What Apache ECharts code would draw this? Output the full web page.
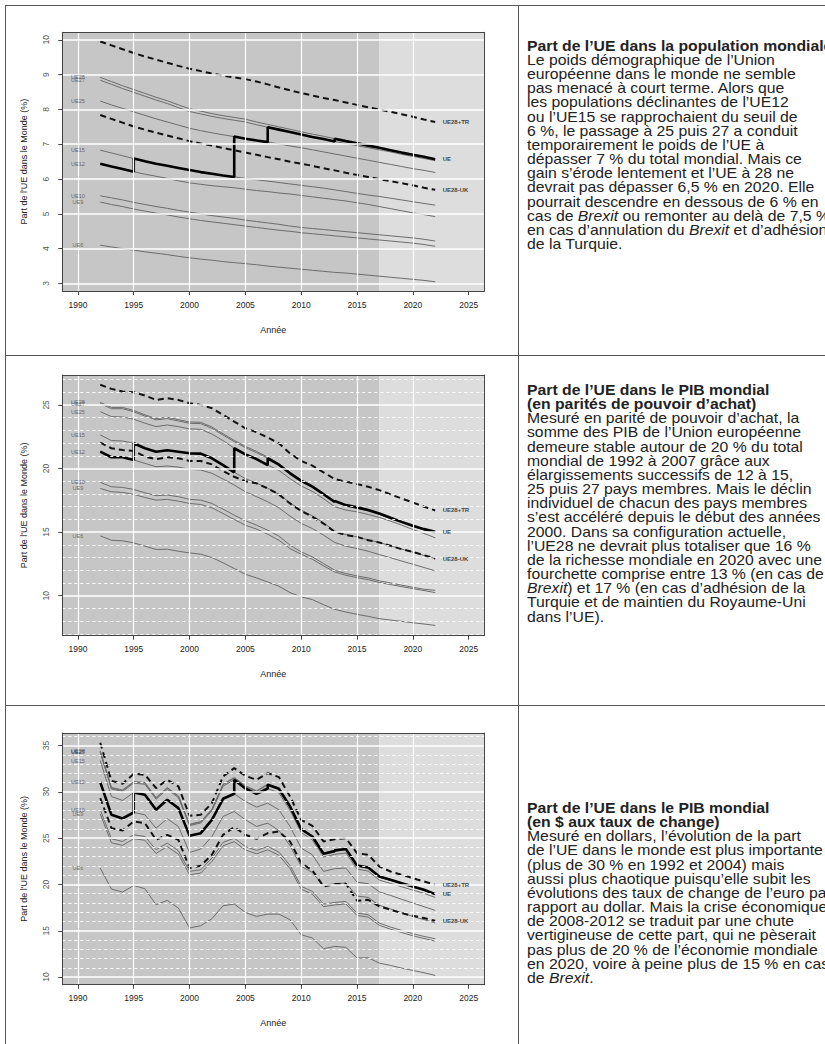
<!DOCTYPE html>
<html><head><meta charset="utf-8">
<script src="https://cdn.jsdelivr.net/npm/echarts@6/dist/echarts.min.js"></script>
<style>
html,body{margin:0;padding:0;width:825px;height:1044px;overflow:hidden;background:#fff;}
#chart{position:absolute;left:0;top:0;width:825px;height:1044px;}
.txt{position:absolute;left:527px;font-family:"Liberation Sans",Arial,sans-serif;font-size:14.2px;line-height:14.15px;color:#222;white-space:nowrap;transform:scaleX(1.11);transform-origin:0 0;}
.hl{position:absolute;left:5px;width:820px;height:1px;background:#555;}
.vl{position:absolute;top:5px;height:1039px;width:1px;background:#555;}
</style></head>
<body>
<div id="chart"></div>
<div class="hl" style="top:5px"></div>
<div class="hl" style="top:355px"></div>
<div class="hl" style="top:705px"></div>
<div class="vl" style="left:5px"></div>
<div class="vl" style="left:518px"></div>
<div class="txt" style="top:38.8px"><b>Part de l’UE dans la population mondiale</b><br>Le poids démographique de l’Union<br>européenne dans le monde ne semble<br>pas menacé à court terme. Alors que<br>les populations déclinantes de l’UE12<br>ou l’UE15 se rapprochaient du seuil de<br>6 %, le passage à 25 puis 27 a conduit<br>temporairement le poids de l’UE à<br>dépasser 7 % du total mondial. Mais ce<br>gain s’érode lentement et l’UE à 28 ne<br>devrait pas dépasser 6,5 % en 2020. Elle<br>pourrait descendre en dessous de 6 % en<br>cas de <i>Brexit</i> ou remonter au delà de 7,5 %<br>en cas d’annulation du <i>Brexit</i> et d’adhésion<br>de la Turquie.</div>
<div class="txt" style="top:383px"><b>Part de l’UE dans le PIB mondial<br>(en parités de pouvoir d’achat)</b><br>Mesuré en parité de pouvoir d’achat, la<br>somme des PIB de l’Union européenne<br>demeure stable autour de 20 % du total<br>mondial de 1992 à 2007 grâce aux<br>élargissements successifs de 12 à 15,<br>25 puis 27 pays membres. Mais le déclin<br>individuel de chacun des pays membres<br>s’est accéléré depuis le début des années<br>2000. Dans sa configuration actuelle,<br>l’UE28 ne devrait plus totaliser que 16 %<br>de la richesse mondiale en 2020 avec une<br>fourchette comprise entre 13 % (en cas de<br><i>Brexit</i>) et 17 % (en cas d’adhésion de la<br>Turquie et de maintien du Royaume-Uni<br>dans l’UE).</div>
<div class="txt" style="top:801px"><b>Part de l’UE dans le PIB mondial<br>(en $ aux taux de change)</b><br>Mesuré en dollars, l’évolution de la part<br>de l’UE dans le monde est plus importante<br>(plus de 30 % en 1992 et 2004) mais<br>aussi plus chaotique puisqu’elle subit les<br>évolutions des taux de change de l’euro par<br>rapport au dollar. Mais la crise économique<br>de 2008-2012 se traduit par une chute<br>vertigineuse de cette part, qui ne pèserait<br>pas plus de 20 % de l’économie mondiale<br>en 2020, voire à peine plus de 15 % en cas<br>de <i>Brexit</i>.</div>
<script>
const YEARS = [1992,1993,1994,1995,1996,1997,1998,1999,2000,2001,2002,2003,2004,2005,2006,2007,2008,2009,2010,2011,2012,2013,2014,2015,2016,2017,2018,2019,2020,2021,2022];
const MEMBERS = ['UE6','UE9','UE10','UE12','UE15','UE25','UE27','UE28'];
const UE_STEPS = [[1992,'UE12'],[1995,'UE15'],[2004,'UE25'],[2007,'UE27'],[2013,'UE28']];
const X_TICKS = [1990,1995,2000,2005,2010,2015,2020,2025];
const X_GRID = [1990,1995,2000,2005,2010,2015,2020];
const FORECAST_START = 2017;
const Y_AXIS_TITLE = "Part de l'UE dans le Monde (%)";
const X_AXIS_TITLE = "Année";

// Population share (%)
const POP_UE6 = [4.10,4.05,4.00,3.96,3.91,3.87,3.83,3.78,3.74,3.70,3.67,3.63,3.60,3.57,3.54,3.50,3.47,3.44,3.41,3.38,3.35,3.32,3.30,3.27,3.24,3.21,3.18,3.15,3.12,3.09,3.05];
const POP_UE9 = [5.34,5.27,5.21,5.14,5.08,5.02,4.97,4.91,4.86,4.81,4.77,4.73,4.69,4.65,4.61,4.57,4.53,4.50,4.46,4.43,4.40,4.37,4.34,4.31,4.28,4.25,4.22,4.19,4.16,4.12,4.07];
const POP_UE10 = [5.52,5.46,5.40,5.33,5.27,5.21,5.16,5.10,5.05,5.00,4.95,4.91,4.87,4.82,4.78,4.74,4.70,4.65,4.61,4.58,4.55,4.52,4.49,4.46,4.43,4.40,4.37,4.34,4.31,4.27,4.22];
const POP_UE12 = [6.44,6.36,6.29,6.21,6.14,6.08,6.02,5.95,5.89,5.85,5.81,5.78,5.75,5.71,5.67,5.64,5.60,5.57,5.53,5.49,5.45,5.41,5.37,5.32,5.27,5.21,5.15,5.09,5.03,4.98,4.92];
const POP_UE15 = [6.83,6.75,6.67,6.59,6.51,6.44,6.38,6.32,6.26,6.20,6.15,6.10,6.06,6.02,5.98,5.94,5.90,5.86,5.82,5.78,5.74,5.69,5.64,5.59,5.54,5.50,5.45,5.40,5.35,5.30,5.25];
const POP_UE25 = [8.24,8.13,8.03,7.93,7.83,7.73,7.64,7.55,7.46,7.39,7.33,7.27,7.22,7.16,7.11,7.06,7.01,6.95,6.90,6.84,6.78,6.72,6.66,6.60,6.54,6.48,6.42,6.36,6.30,6.25,6.19];
const POP_UE27 = [8.84,8.72,8.60,8.49,8.38,8.27,8.17,8.05,7.94,7.87,7.80,7.74,7.69,7.64,7.56,7.49,7.42,7.35,7.28,7.21,7.15,7.08,7.02,6.96,6.90,6.84,6.78,6.71,6.65,6.59,6.53];
const POP_UE28 = [8.92,8.80,8.68,8.57,8.46,8.35,8.25,8.13,8.02,7.95,7.88,7.82,7.77,7.72,7.64,7.57,7.50,7.43,7.36,7.29,7.23,7.16,7.09,7.03,6.96,6.90,6.83,6.76,6.70,6.64,6.57];
const POP_UE28TR = [9.95,9.84,9.73,9.62,9.52,9.43,9.34,9.25,9.17,9.10,9.03,8.97,8.92,8.87,8.80,8.72,8.63,8.55,8.47,8.40,8.33,8.27,8.20,8.13,8.06,8.00,7.93,7.86,7.79,7.71,7.64];
const POP_UE28UK = [7.84,7.73,7.62,7.51,7.42,7.33,7.25,7.17,7.09,7.02,6.96,6.89,6.83,6.76,6.70,6.63,6.57,6.50,6.44,6.38,6.31,6.25,6.18,6.12,6.06,6.00,5.94,5.88,5.82,5.75,5.69];
const POP_Y_TICKS = [3,4,5,6,7,8,9,10];
const POP_Y_MINOR = [];

// GDP share, PPP (%)
const PPP_UE6 = [14.70,14.36,14.31,14.15,13.89,13.63,13.65,13.49,13.36,13.26,13.00,12.58,12.13,11.68,11.39,11.08,10.74,10.24,9.90,9.69,9.29,8.92,8.71,8.53,8.37,8.19,8.08,7.98,7.87,7.77,7.66];
const PPP_UE9 = [18.43,18.17,18.12,17.96,17.72,17.51,17.57,17.43,17.25,17.17,16.91,16.46,15.99,15.54,15.23,14.83,14.36,13.70,13.26,12.86,12.34,11.87,11.60,11.42,11.26,11.03,10.87,10.71,10.55,10.40,10.24];
const PPP_UE10 = [18.91,18.56,18.51,18.35,18.09,17.86,17.91,17.78,17.57,17.51,17.25,16.80,16.33,15.89,15.54,15.15,14.68,13.97,13.44,13.05,12.52,12.00,11.74,11.55,11.39,11.16,11.00,10.82,10.66,10.50,10.42];
const PPP_UE12 = [21.32,20.88,20.88,20.67,20.40,20.14,20.19,20.11,19.93,19.88,19.62,19.17,18.70,18.17,17.78,17.38,16.91,16.25,15.68,15.28,14.76,14.18,13.89,13.70,13.49,13.23,12.98,12.72,12.47,12.21,11.95];
const PPP_UE15 = [22.64,22.19,22.16,21.98,21.59,21.32,21.43,21.32,21.19,21.17,20.80,20.27,19.70,19.20,18.85,18.45,17.98,17.30,16.72,16.28,15.72,15.08,14.80,14.62,14.38,14.18,13.92,13.66,13.42,13.16,12.90];
const PPP_UE25 = [24.47,24.08,24.05,23.87,23.56,23.29,23.42,23.29,23.11,23.08,22.71,22.19,21.59,21.11,20.74,20.27,19.85,19.20,18.62,18.20,17.62,16.99,16.73,16.59,16.38,16.15,15.86,15.54,15.20,14.89,14.55];
const PPP_UE27 = [25.10,24.70,24.70,24.46,24.12,23.82,23.92,23.74,23.55,23.53,23.16,22.63,22.11,21.64,21.24,20.80,20.30,19.62,19.02,18.57,17.97,17.36,17.04,16.86,16.65,16.38,16.04,15.72,15.42,15.15,14.94];
const PPP_UE28 = [25.20,24.80,24.80,24.56,24.22,23.92,24.02,23.84,23.65,23.63,23.26,22.73,22.21,21.74,21.34,20.90,20.39,19.71,19.11,18.66,18.06,17.45,17.12,16.94,16.73,16.46,16.12,15.80,15.50,15.23,15.02];
const PPP_UE28TR = [26.58,26.26,26.05,26.00,25.74,25.39,25.53,25.39,25.13,25.00,24.74,24.21,23.69,23.16,22.85,22.43,21.98,21.19,20.59,20.22,19.69,19.17,18.96,18.77,18.56,18.30,17.96,17.64,17.33,16.99,16.70];
const PPP_UE28UK = [22.03,21.59,21.45,21.38,20.93,20.74,20.88,20.80,20.59,20.59,20.32,19.80,19.35,19.00,18.83,18.43,17.96,17.25,16.65,16.20,15.67,15.02,14.76,14.62,14.36,14.18,13.92,13.65,13.44,13.18,12.92];
const PPP_Y_TICKS = [10,15,20,25];
const PPP_Y_MINOR = [7,8,9,11,12,13,14,16,17,18,19,21,22,23,24,26,27];

// GDP share, current US$ (%)
const USD_UE6 = [21.77,19.50,19.18,19.89,19.54,17.81,18.28,17.45,15.30,15.55,16.30,17.70,17.89,16.98,16.55,16.80,16.80,16.19,14.57,14.22,13.06,13.31,13.21,12.06,12.09,11.51,11.26,10.97,10.72,10.47,10.18];
const USD_UE9 = [27.61,24.50,24.22,24.94,24.77,23.35,24.08,23.26,21.05,21.23,22.49,24.17,24.62,23.73,23.31,23.74,23.15,21.72,19.49,18.96,17.61,17.79,17.90,16.65,16.48,15.59,15.17,14.81,14.46,14.17,13.89];
const USD_UE10 = [28.06,24.93,24.64,25.36,25.18,23.75,24.47,23.64,21.41,21.59,22.85,24.54,25.00,24.10,23.67,24.10,23.50,22.05,19.79,19.25,17.88,18.06,18.17,16.91,16.73,15.83,15.40,15.04,14.68,14.39,14.14];
const USD_UE12 = [31.05,27.52,27.13,27.77,27.52,26.08,27.09,26.26,23.46,23.82,25.18,27.34,27.88,26.98,26.26,26.62,25.83,24.18,21.95,21.30,19.85,20.10,20.15,18.75,18.60,17.75,17.35,16.95,16.55,16.20,15.85];
const USD_UE15 = [33.38,29.50,29.07,29.93,29.68,28.06,29.14,28.24,25.26,25.54,26.98,29.25,29.79,28.96,28.35,28.78,28.06,26.26,23.93,23.21,21.41,21.70,21.77,20.25,20.08,19.20,18.82,18.40,18.00,17.60,17.20];
const USD_UE25 = [34.25,30.30,30.04,30.93,30.82,29.20,30.27,29.38,26.35,26.63,27.94,30.61,31.30,30.36,29.77,30.36,29.88,28.02,25.60,24.80,22.96,23.25,23.40,21.66,21.45,20.47,20.11,19.75,19.39,19.04,18.60];
const USD_UE27 = [34.35,30.40,30.14,31.05,30.94,29.32,30.40,29.50,26.44,26.73,28.06,30.76,31.48,30.58,30.04,30.76,30.33,28.42,25.97,25.18,23.31,23.60,23.75,21.98,21.76,20.79,20.43,20.07,19.71,19.35,18.89];
const USD_UE28 = [34.42,30.46,30.20,31.11,31.00,29.38,30.46,29.56,26.50,26.79,28.12,30.82,31.55,30.65,30.11,30.83,30.41,28.50,26.05,25.26,23.39,23.68,23.82,22.05,21.83,20.86,20.50,20.14,19.78,19.42,18.96];
const USD_UE28TR = [35.30,31.19,30.87,31.95,31.84,30.40,31.30,30.58,27.41,27.52,28.78,31.66,32.56,31.73,31.30,32.02,31.59,29.50,26.98,26.33,24.64,24.89,25.00,23.38,23.20,21.94,21.40,21.04,20.68,20.32,19.96];
const USD_UE28UK = [29.32,26.08,25.83,26.80,26.62,24.82,25.36,24.82,21.77,22.02,23.21,25.36,26.19,25.36,24.93,25.54,25.72,24.64,22.31,21.52,19.79,20.04,20.08,18.24,18.35,17.63,17.27,16.91,16.62,16.37,16.08];
const USD_Y_TICKS = [10,15,20,25,30,35];
const USD_Y_MINOR = [11,12,13,14,16,17,18,19,21,22,23,24,26,27,28,29,31,32,33,34,36];

const PANELS = [
  {sets:{UE6:POP_UE6,UE9:POP_UE9,UE10:POP_UE10,UE12:POP_UE12,UE15:POP_UE15,UE25:POP_UE25,UE27:POP_UE27,UE28:POP_UE28}, tr:POP_UE28TR, uk:POP_UE28UK, ticks:POP_Y_TICKS, minor:POP_Y_MINOR, ymin:2.785, ymax:10.215, top:32.3, height:258.7},
  {sets:{UE6:PPP_UE6,UE9:PPP_UE9,UE10:PPP_UE10,UE12:PPP_UE12,UE15:PPP_UE15,UE25:PPP_UE25,UE27:PPP_UE27,UE28:PPP_UE28}, tr:PPP_UE28TR, uk:PPP_UE28UK, ticks:PPP_Y_TICKS, minor:PPP_Y_MINOR, ymin:6.85, ymax:27.35, top:375, height:260.7},
  {sets:{UE6:USD_UE6,UE9:USD_UE9,UE10:USD_UE10,UE12:USD_UE12,UE15:USD_UE15,UE25:USD_UE25,UE27:USD_UE27,UE28:USD_UE28}, tr:USD_UE28TR, uk:USD_UE28UK, ticks:USD_Y_TICKS, minor:USD_Y_MINOR, ymin:9.18, ymax:36.35, top:733, height:251.7}
];
const X_MIN = 1988.6, X_MAX = 2026.4;
const FONT = 'Liberation Sans';

function pairs(arr){ return YEARS.map((y,k)=>[y,arr[k]]); }
function composite(sets){
  const out=[];
  UE_STEPS.forEach(([start,name],i)=>{
    const end = i+1<UE_STEPS.length ? UE_STEPS[i+1][0] : YEARS[YEARS.length-1];
    YEARS.forEach((y,k)=>{ if(y>=start && y<=end) out.push([y,sets[name][k]]); });
  });
  return out;
}

const grid=[], xAxis=[], yAxis=[], series=[];
PANELS.forEach((p,g)=>{
  grid.push({left:62.3, top:p.top, width:422, height:p.height, containLabel:false});
  const xb = 2*g, yl = 2*g;
  xAxis.push({type:'value', gridIndex:g, min:X_MIN, max:X_MAX, position:'bottom', z:10,
    axisLine:{show:true,onZero:false,lineStyle:{color:'#444',width:1}},
    axisTick:{show:true,customValues:X_TICKS,length:4,lineStyle:{color:'#444'}},
    axisLabel:{customValues:X_TICKS,margin:9,fontSize:8.5,color:'#222',fontFamily:FONT,formatter:v=>String(Math.round(v))},
    splitLine:{show:false}, name:X_AXIS_TITLE, nameLocation:'middle', nameGap:34,
    nameTextStyle:{fontSize:9,color:'#222',fontFamily:FONT}});
  xAxis.push({type:'value', gridIndex:g, min:X_MIN, max:X_MAX, position:'top', z:10,
    axisLine:{show:true,onZero:false,lineStyle:{color:'#444',width:1}},
    axisTick:{show:false}, axisLabel:{show:false}, splitLine:{show:false}});
  yAxis.push({type:'value', gridIndex:g, min:p.ymin, max:p.ymax, position:'left', z:10,
    axisLine:{show:true,onZero:false,lineStyle:{color:'#444',width:1}},
    axisTick:{show:true,customValues:p.ticks,length:4,lineStyle:{color:'#444'}},
    axisLabel:{show:false},
    splitLine:{show:false}, name:Y_AXIS_TITLE, nameLocation:'middle', nameRotate:90, nameGap:34,
    nameTextStyle:{fontSize:9,color:'#222',fontFamily:FONT}});
  yAxis.push({type:'value', gridIndex:g, min:p.ymin, max:p.ymax, position:'right', z:10,
    axisLine:{show:true,onZero:false,lineStyle:{color:'#444',width:1}},
    axisTick:{show:false}, axisLabel:{show:false}, splitLine:{show:false}});

  const base = {xAxisIndex:xb, yAxisIndex:yl, silent:true, animation:false};
  // background periods
  series.push(Object.assign({type:'line', z:0, data:[[X_MIN,p.ymin]], symbol:'none', lineStyle:{opacity:0},
    markArea:{silent:true, data:[
      [{xAxis:X_MIN, itemStyle:{color:'#c6c6c6'}},{xAxis:FORECAST_START}],
      [{xAxis:FORECAST_START, itemStyle:{color:'#dddddd'}},{xAxis:X_MAX}]
    ]}}, base));
  // grid lines
  const ml = [];
  p.ticks.forEach(v=>ml.push({yAxis:v, lineStyle:{color:'#ffffff',width:1.5,type:'solid'}}));
  p.minor.forEach(v=>ml.push({yAxis:v, lineStyle:{color:'#ffffff',width:1,type:[3,3]}}));
  X_GRID.forEach(v=>ml.push({xAxis:v, lineStyle:{color:'#ffffff',width:1.2,type:'solid'}}));
  series.push(Object.assign({type:'line', z:1, data:[[X_MIN,p.ymin]], symbol:'none', lineStyle:{opacity:0},
    markLine:{silent:true, symbol:['none','none'], label:{show:false}, data:ml}}, base));
  // member lines
  MEMBERS.forEach(m=>{
    series.push(Object.assign({type:'line', z:2, name:m, data:pairs(p.sets[m]), symbol:'none',
      lineStyle:{color:'#6c6c6c',width:1}}, base));
  });
  // scenarios
  [p.tr,p.uk].forEach(arr=>{
    series.push(Object.assign({type:'line', z:3, data:pairs(arr), symbol:'none',
      lineStyle:{color:'#111',width:2,type:[6,4]}}, base));
  });
  // UE (actual composition)
  const ue = composite(p.sets);
  series.push(Object.assign({type:'line', z:4, data:ue, symbol:'none',
    lineStyle:{color:'#000',width:2.6}}, base));
  // left labels
  series.push(Object.assign({type:'scatter', z:5, symbol:'circle', symbolSize:1, itemStyle:{color:'rgba(0,0,0,0)'},
    data:MEMBERS.map(m=>({name:m, value:[1990, p.sets[m][0]]})),
    label:{show:true, position:'inside', formatter:'{b}', fontSize:5.6, color:'#4a4a4a', fontFamily:FONT}}, base));
  // right labels
  const last = YEARS.length-1;
  series.push(Object.assign({type:'scatter', z:5, symbol:'circle', symbolSize:1, itemStyle:{color:'rgba(0,0,0,0)'},
    data:[{name:'UE28+TR', value:[YEARS[last], p.tr[last]]},{name:'UE', value:[YEARS[last], ue[ue.length-1][1]]},{name:'UE28-UK', value:[YEARS[last], p.uk[last]]}],
    label:{show:true, position:'right', distance:7, formatter:'{b}', fontSize:6, fontWeight:'bold', color:'#111', fontFamily:FONT}}, base));
  // y tick labels (rotated, as in R)
  series.push(Object.assign({type:'scatter', z:5, clip:false, symbol:'circle', symbolSize:1, itemStyle:{color:'rgba(0,0,0,0)'},
    data:p.ticks.map(v=>({name:String(v), value:[X_MIN, v]})),
    label:{show:true, position:[-15.6,0.5], rotate:90, align:'center', verticalAlign:'middle', formatter:'{b}', fontSize:8.5, color:'#222', fontFamily:FONT}}, base));
});

const chart = echarts.init(document.getElementById('chart'), null, {renderer:'svg', width:825, height:1044});
chart.setOption({animation:false, backgroundColor:'transparent', grid, xAxis, yAxis, series});
</script>
</body></html>
